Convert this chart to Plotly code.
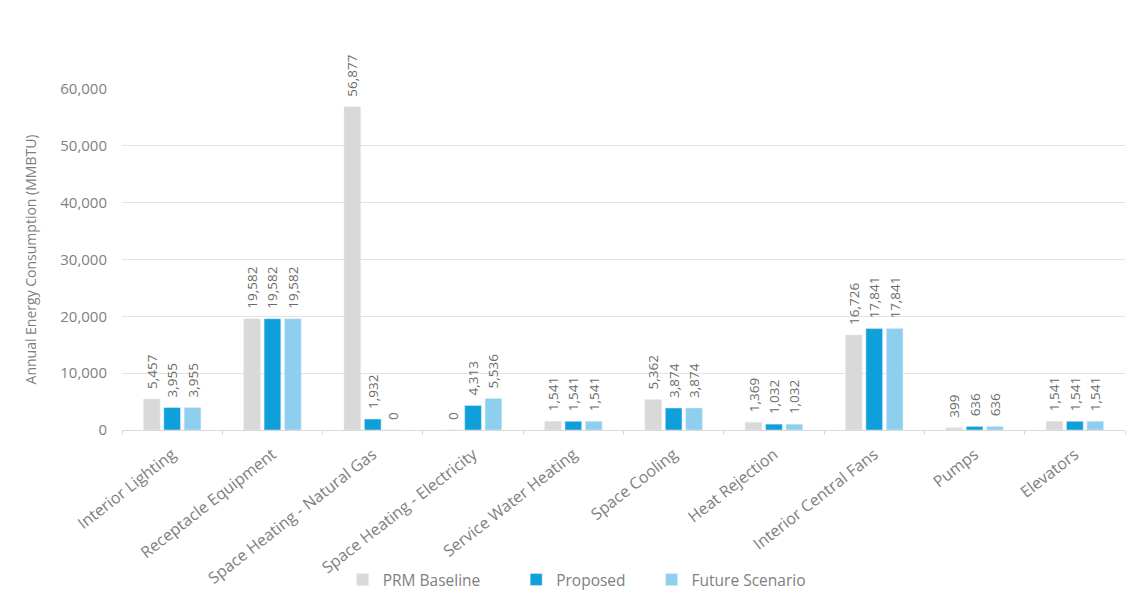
import plotly.graph_objects as go

categories = ["Interior Lighting", "Receptacle Equipment", "Space Heating - Natural Gas",
              "Space Heating - Electricity", "Service Water Heating", "Space Cooling",
              "Heat Rejection", "Interior Central Fans", "Pumps", "Elevators"]
prm_baseline = [5457, 19582, 56877, 0, 1541, 5362, 1369, 16726, 399, 1541]
proposed = [3955, 19582, 1932, 4313, 1541, 3874, 1032, 17841, 636, 1541]
future_scenario = [3955, 19582, 0, 5536, 1541, 3874, 1032, 17841, 636, 1541]

series = [
    ("PRM Baseline", prm_baseline, "#D9D9D9", "legend"),
    ("Proposed", proposed, "#0FA0DB", "legend2"),
    ("Future Scenario", future_scenario, "#8ECFF0", "legend3"),
]

FONT = "Open Sans"
fig = go.Figure()
for name, vals, color, lg in series:
    fig.add_trace(go.Bar(
        x=categories, y=vals, name=name, marker_color=color,
        texttemplate="\u00a0\u00a0%{y:,}", textposition="outside", textangle=-90,
        textfont=dict(family=FONT, size=13.5, color="#6b6b6b"),
        constraintext="none", cliponaxis=False, legend=lg, showlegend=True,
    ))

leg_common = dict(orientation="h", yanchor="middle", xanchor="left",
                  font=dict(family=FONT, size=15.5, color="#7f7f7f"),
                  bgcolor="rgba(0,0,0,0)", itemwidth=30, visible=True)
fig.update_layout(
    width=1133, height=597,
    margin=dict(l=122, r=8, t=89, b=167, autoexpand=False),
    paper_bgcolor="white", plot_bgcolor="white",
    barmode="group", bargap=0.39, bargroupgap=0.18,
    font=dict(family=FONT, color="#7f7f7f"),
    showlegend=True,
    legend=dict(x=0.220, y=-0.44, **leg_common),
    legend2=dict(x=0.393, y=-0.44, **leg_common),
    legend3=dict(x=0.528, y=-0.44, **leg_common),
    xaxis=dict(
        tickangle=-38, tickfont=dict(family=FONT, size=16, color="#7f7f7f"),
        showline=True, linecolor="#d9d9d9", linewidth=1,
        ticks="outside", tickson="boundaries", ticklen=4, tickcolor="#d9d9d9",
        showgrid=False, ticklabelstandoff=8, automargin=False,
    ),
    yaxis=dict(
        range=[0, 60000], tickvals=[0, 10000, 20000, 30000, 40000, 50000, 60000],
        tickformat=",", tickfont=dict(family=FONT, size=15, color="#7f7f7f"),
        showgrid=True, gridcolor="#e3e3e3", gridwidth=1, zeroline=False,
        ticks="", ticklabelstandoff=14, automargin=False,
        title=dict(text="Annual Energy Consumption (MMBTU)",
                   font=dict(family=FONT, size=14, color="#7f7f7f"), standoff=20),
    ),
)
fig.write_html("out.html")
